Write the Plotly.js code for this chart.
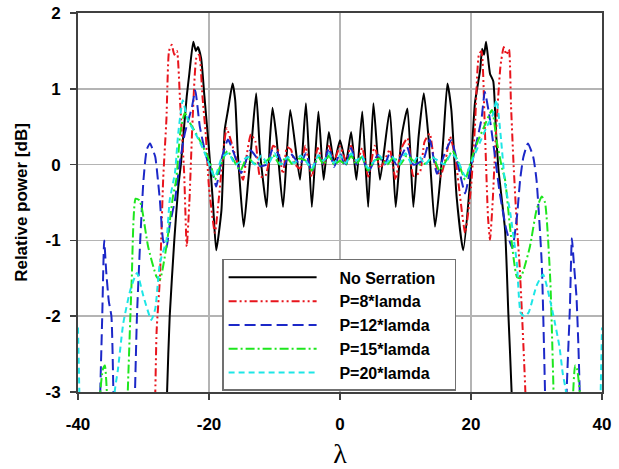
<!DOCTYPE html>
<html>
<head>
<meta charset="utf-8">
<script src="https://cdn.plot.ly/plotly-3.0.1.min.js"></script>
<style>html,body{margin:0;padding:0;background:#fff;}#chart{width:619px;height:469px;}</style>
</head>
<body>
<div id="chart"></div>
<script>
const seriesNames = ["No Serration", "P=8*lamda", "P=12*lamda", "P=15*lamda", "P=20*lamda"];
const xTickVals = [-40, -20, 0, 20, 40];
const yTickVals = [-3, -2, -1, 0, 1, 2];

const xBlack = [-40, -26.6, -26.4, -26.0, -25.3, -24.7, -24.3, -23.8, -23.4, -23.0, -22.4, -22.0, -21.7, -21.2, -20.7, -20.0, -19.4, -18.9, -18.1, -17.6, -17.1, -16.4, -16.0, -15.6, -14.7, -14.0, -13.5, -12.8, -12.2, -11.2, -10.7, -10.3, -9.7, -8.7, -7.6, -6.1, -5.2, -4.3, -3.3, -2.5, -1.7, -0.9, 0, 0.9, 1.7, 2.5, 3.4, 4.3, 5.1, 6.1, 7.6, 8.5, 9.4, 10.3, 11.2, 12.0, 12.8, 13.5, 14.5, 15.3, 15.8, 16.4, 17.0, 17.8, 18.8, 19.8, 20.6, 21.4, 21.7, 22.0, 22.3, 22.9, 23.4, 23.8, 24.2, 25.2, 25.7, 26.2, 26.4, 40];
const yBlack = [-4, -4, -3, -2, -1, -0.3, 0, 0.5, 0.9, 1.2, 1.62, 1.5, 1.55, 1.4, 0.9, 0.2, -0.5, -1.13, -0.6, 0.46, 0.72, 1.07, 0.85, 0.15, -0.82, -0.2, 0.28, 0.94, 0.15, -0.56, 0.33, 0.75, 0.36, -0.56, 0.72, -0.2, 0.81, -0.56, 0.7, -0.2, 0.43, 0.02, 0.32, 0.02, 0.43, -0.2, 0.7, -0.56, 0.81, -0.2, 0.72, -0.56, 0.37, 0.74, -0.56, 0.37, 0.94, 0.37, -0.82, -0.2, 0.37, 1.07, 0.72, -0.42, -1.13, -0.29, 0.81, 1.25, 1.53, 1.45, 1.62, 1.2, 1.1, 0.46, -0.07, -0.86, -1.96, -3, -4, -4];

const xRed = [-40, -28.5, -28.2, -28.0, -27.5, -27.0, -26.5, -26.1, -25.7, -25.3, -24.9, -24.4, -23.8, -23.4, -23.0, -22.5, -21.9, -21.5, -21.0, -20.5, -20.0, -19.1, -18.5, -17.8, -17.3, -16.6, -15.6, -14.8, -14.2, -13.6, -12.9, -12.2, -11.4, -10.7, -10.2, -9.5, -8.7, -8.1, -7.5, -6.8, -6.1, -5.3, -4.3, -3.4, -2.5, -1.7, -0.9, 0, 0.9, 1.7, 2.5, 3.4, 4.3, 5.3, 6.1, 6.8, 7.6, 8.5, 9.3, 10.3, 11.2, 12.2, 12.9, 13.7, 14.3, 15.3, 16.2, 16.8, 17.6, 18.3, 19.1, 20.0, 20.6, 21.2, 21.6, 22.1, 22.6, 22.9, 23.3, 23.8, 24.5, 25.0, 25.4, 25.8, 26.1, 26.5, 27.0, 27.4, 27.8, 28.3, 28.6, 40];
const yRed = [-4, -4, -3, -2.2, -1.5, -0.2, 0.6, 1.5, 1.58, 1.45, 1.5, 0.8, -0.1, -1.08, -0.5, 0.6, 1.42, 1.45, 0.9, 0.4, -0.3, -0.9, -0.45, 0.2, 0.48, 0.3, 0.0, -0.2, 0.15, 0.4, 0.3, -0.16, -0.15, 0.1, 0.25, 0.2, -0.12, 0.23, 0.2, 0.0, -0.05, 0.25, -0.16, 0.22, 0.0, 0.25, 0.05, 0.24, 0.05, 0.25, 0.0, 0.22, -0.16, 0.25, -0.05, 0.05, 0.2, -0.2, 0.2, 0.35, -0.15, -0.1, 0.3, 0.41, 0.1, -0.16, 0.1, 0.37, 0.1, -0.4, -0.9, -0.3, 0.5, 1.45, 1.5, 0.5, -0.7, -0.99, -0.5, 0.4, 1.3, 1.55, 1.45, 1.52, 0.8, 0.0, -0.8, -1.3, -2.0, -3, -4, -4];

const xBlue = [-40, -36.8, -36.6, -36.3, -36.0, -35.7, -35.3, -34.9, -34.6, -34.4, -31.6, -31.3, -31.0, -30.5, -30.0, -29.5, -29.0, -28.6, -28.2, -27.5, -27.0, -26.5, -26.0, -25.2, -24.5, -23.7, -22.6, -22.1, -21.4, -20.4, -19.3, -18.9, -18.0, -17.1, -16.2, -15.1, -13.7, -12.8, -12.2, -11.2, -10.3, -9.5, -8.6, -7.6, -6.1, -5.2, -4.3, -3.3, -2.5, -1.7, -0.9, 0, 0.8, 1.7, 2.5, 3.3, 4.3, 5.8, 6.8, 7.6, 8.6, 9.4, 10.2, 11.2, 12.7, 13.7, 14.8, 16.0, 17.0, 18.0, 19.1, 19.8, 20.6, 21.6, 22.1, 22.7, 23.4, 24.4, 25.4, 26.3, 27.0, 27.5, 28.0, 28.7, 29.5, 30.0, 30.8, 31.3, 31.5, 34.4, 34.6, 35.1, 35.4, 35.7, 36.1, 36.4, 36.6, 36.8, 40];
const yBlue = [-4, -4, -3, -2.0, -1.0, -1.4, -1.8, -2.0, -3, -4, -4, -3, -2.0, -1.0, -0.2, 0.2, 0.28, 0.2, 0.1, -0.47, -1.0, -1.1, -0.8, -0.47, 0.0, 0.41, 0.76, 0.98, 0.5, 0.1, -0.16, -0.29, 0.1, 0.33, 0.15, -0.11, 0.19, 0.1, -0.02, 0.0, 0.2, 0.15, -0.02, 0.15, 0.0, 0.15, -0.1, 0.12, 0.0, 0.22, -0.03, 0.15, -0.03, 0.22, 0.0, 0.12, -0.1, 0.13, 0.0, 0.15, 0.0, 0.12, 0.24, 0.0, 0.06, 0.33, -0.12, 0.15, 0.32, 0.0, -0.38, -0.1, 0.2, 0.6, 0.96, 0.7, 0.28, -0.38, -0.86, -1.1, -0.7, -0.2, 0.1, 0.28, 0.1, -0.2, -1.3, -3, -4, -4, -3, -1.88, -0.97, -1.3, -1.74, -2.4, -3, -4, -4];

const xGreen = [-40, -36.8, -36.6, -36.2, -35.9, -35.6, -35.4, -32.7, -32.4, -31.8, -31.2, -30.6, -30.2, -29.3, -28.0, -27.5, -26.5, -25.5, -25.0, -24.4, -23.7, -22.9, -21.4, -19.8, -19.1, -18.2, -17.2, -16.2, -15.2, -14.2, -13.2, -12.2, -11.2, -10.2, -9.2, -8.2, -7.2, -6.2, -5.2, -4.3, -3.3, -2.5, -1.7, -0.9, 0, 0.9, 1.7, 2.5, 3.3, 4.3, 5.2, 6.2, 7.2, 8.2, 9.2, 10.2, 11.2, 12.2, 13.2, 14.2, 15.2, 16.2, 17.2, 18.2, 19.1, 20.0, 21.0, 22.0, 23.2, 23.9, 24.7, 25.2, 26.0, 27.0, 27.5, 28.0, 29.0, 30.0, 30.8, 31.3, 32.1, 32.6, 32.8, 35.4, 35.6, 35.9, 36.2, 36.6, 36.8, 40];
const yGreen = [-4, -4, -3, -2.7, -2.65, -3, -4, -4, -3, -1.52, -0.45, -0.47, -0.6, -1.08, -1.48, -1.52, -1.08, -0.42, -0.2, 0.41, 0.68, 0.55, 0.32, 0.02, -0.2, 0.0, 0.18, 0.05, -0.08, 0.1, 0.02, 0.0, 0.05, 0.12, 0.0, 0.1, 0.0, 0.08, 0.05, -0.08, 0.1, 0.0, 0.12, 0.0, 0.05, 0.0, 0.12, 0.0, 0.1, -0.08, 0.05, 0.08, 0.0, 0.1, 0.0, 0.12, 0.05, 0.0, 0.02, 0.1, -0.08, 0.05, 0.18, 0.0, -0.2, 0.05, 0.3, 0.5, 0.72, 0.32, -0.03, -0.2, -0.86, -1.48, -1.5, -1.4, -1.08, -0.6, -0.42, -0.5, -1.52, -3, -4, -4, -3, -2.65, -2.7, -3, -4, -4];

const xCyan = [-40, -39.8, -39.6, -34.6, -34.4, -33.9, -33.1, -32.0, -31.0, -30.0, -28.8, -28.2, -27.5, -26.5, -26.0, -25.2, -24.7, -24.0, -23.3, -22.4, -21.4, -20.4, -19.1, -18.0, -17.0, -16.0, -15.0, -14.0, -13.0, -12.0, -11.0, -10.0, -9.0, -8.0, -7.0, -6.0, -5.0, -4.3, -3.3, -2.5, -1.7, -0.9, 0, 0.9, 1.7, 2.5, 3.3, 4.3, 5.0, 6.0, 7.0, 8.0, 9.0, 10.0, 11.0, 12.0, 13.0, 14.0, 15.0, 16.0, 17.0, 18.0, 19.1, 20.4, 21.4, 22.4, 23.3, 23.9, 24.6, 25.2, 26.0, 27.0, 27.6, 28.2, 28.8, 30.0, 31.0, 32.5, 33.5, 34.0, 34.5, 34.7, 39.6, 39.8, 40];
const yCyan = [-2.15, -3, -4, -4, -3, -2.7, -2.1, -1.65, -1.43, -1.74, -2.05, -1.9, -1.3, -1.0, -0.47, -0.11, 0.41, 0.85, 0.6, 0.46, 0.3, 0.1, -0.16, 0.1, 0.15, 0.0, 0.05, 0.1, 0.0, 0.12, 0.0, 0.15, 0.0, 0.1, 0.02, 0.12, 0.02, -0.05, 0.12, 0.05, 0.15, 0.02, 0.12, 0.02, 0.15, 0.05, 0.12, -0.05, 0.02, 0.12, 0.02, 0.1, 0.0, 0.15, 0.0, 0.12, 0.0, 0.1, 0.05, 0.0, 0.15, 0.05, -0.15, 0.1, 0.3, 0.5, 0.65, 0.85, 0.32, -0.25, -0.64, -1.3, -1.96, -2.0, -1.95, -1.6, -1.45, -1.96, -2.4, -2.75, -3, -4, -4, -3, -2.15];

const xs = [xBlack, xRed, xBlue, xGreen, xCyan];
const ys = [yBlack, yRed, yBlue, yGreen, yCyan];
const colors = ["#000000", "#e8141c", "#1c28c8", "#1ee61e", "#1ee6e6"];
const dashes = ["solid", "8px,3px,2px,3px,2px,3px", "11px,5px", "9px,3px,2px,3px", "6px,4px"];
const padL = "\u00a0\u00a0\u00a0\u00a0";
const padR = "\u00a0\u00a0\u00a0";

const traces = seriesNames.map((n, i) => ({
  type: "scatter", mode: "lines", name: padL + n + padR,
  x: xs[i], y: ys[i],
  line: {color: colors[i], width: 2, dash: dashes[i], shape: "spline", smoothing: 0.5},
  hoverinfo: "skip"
}));

const font = "Liberation Sans, Arial, sans-serif";
const layout = {
  width: 619, height: 469,
  margin: {l: 78, r: 17, t: 13, b: 77},
  paper_bgcolor: "#ffffff", plot_bgcolor: "#ffffff",
  showlegend: true,
  xaxis: {
    range: [-40, 40], tickvals: xTickVals, ticktext: xTickVals.map(String),
    showgrid: true, gridcolor: "#b4b4b4", gridwidth: 1.5, zeroline: false,
    showline: true, linecolor: "#404040", linewidth: 2, mirror: true,
    ticks: "outside", ticklen: 6, tickcolor: "#404040", tickwidth: 1.5,
    ticklabelstandoff: 10,
    tickfont: {family: font, size: 17, color: "#000", weight: "bold"},
    title: {text: "λ", font: {family: "Liberation Serif, serif", size: 28, color: "#000"}, standoff: 25}
  },
  yaxis: {
    range: [-3, 2], tickvals: yTickVals, ticktext: yTickVals.map(String),
    showgrid: true, gridcolor: "#b4b4b4", gridwidth: 1.5, zeroline: false,
    showline: true, linecolor: "#404040", linewidth: 2, mirror: true,
    ticks: "outside", ticklen: 6, tickcolor: "#404040", tickwidth: 1.5,
    ticklabelstandoff: 6,
    tickfont: {family: font, size: 17, color: "#000", weight: "bold"},
    title: {text: "Relative power [dB]", font: {family: font, size: 17, color: "#000", weight: "bold"}, standoff: 14}
  },
  legend: {
    x: 0.275, y: 0.351, xanchor: "left", yanchor: "top",
    bgcolor: "#ffffff", bordercolor: "#707070", borderwidth: 1.5,
    font: {family: font, size: 16, color: "#000", weight: "bold"},
    itemwidth: 88, tracegroupgap: 0
  }
};

Plotly.newPlot("chart", traces, layout, {displayModeBar: false, staticPlot: true});
</script>
</body>
</html>
